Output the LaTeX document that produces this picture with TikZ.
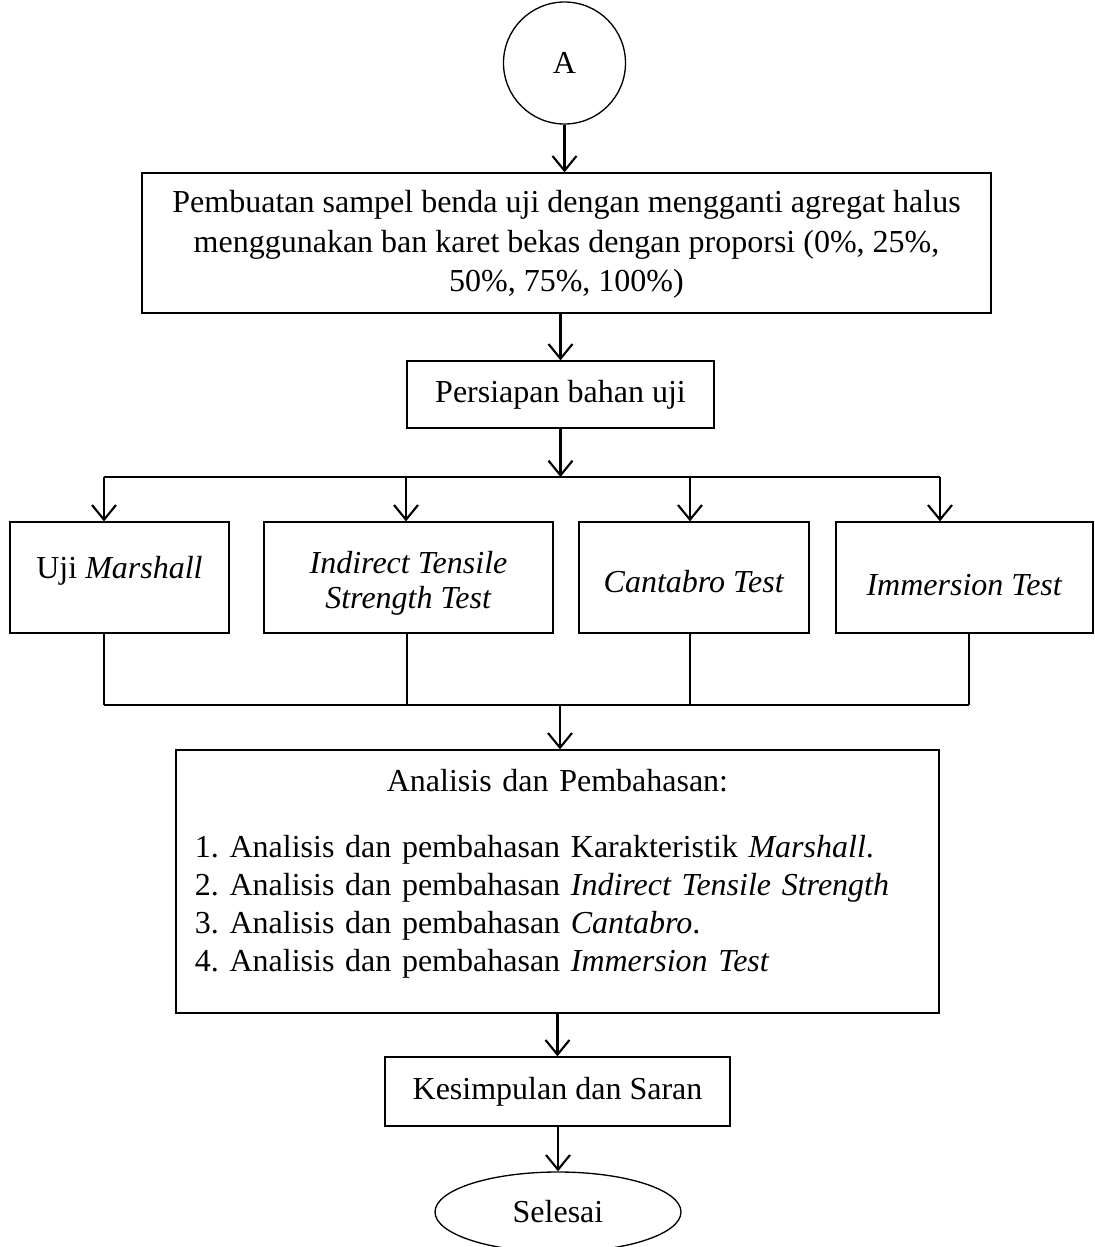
\documentclass[tikz,border=0pt,12pt]{standalone}
\usepackage{fontspec}
\setmainfont{Liberation Serif}
\usetikzlibrary{arrows.meta,shapes.geometric}
\frenchspacing

\begin{document}
\begin{tikzpicture}[x=0.375pt,y=-0.375pt,
    box/.style={draw, line width=0.5pt, inner sep=2pt, align=center, font=\fontsize{12}{14}\selectfont},
    arr/.style={-{Straight Barb[length=5.5pt,width=9pt]}, line width=0.8pt},
    conn/.style={line width=0.7pt}]
    \useasboundingbox (0,0) rectangle (1095,1247);
    \clip (0,0) rectangle (1095,1247);

    % start
    \node[draw, circle, minimum size=45.75pt, inner sep=0pt, line width=0.5pt, font=\fontsize{12}{14}\selectfont] (a) at (564.5,63) {A};

    \node[box, minimum width=318.4pt, minimum height=52.5pt, font=\fontsize{12}{14.8}\selectfont] (buat) at (566.5,243)
        {\rule{0pt}{9.3pt}Pembuatan sampel benda uji dengan mengganti agregat halus\\
         menggunakan ban karet bekas dengan proporsi (0\%, 25\%,\\
         50\%, 75\%, 100\%)};
    \node[box, minimum width=115.1pt, minimum height=25.1pt] (siap) at (560.5,394.5) {Persiapan bahan uji};

    % pengujian
    \node[box, minimum width=82.1pt, minimum height=41.6pt, text depth=7.5pt] (marshall) at (119.5,577.5) {Uji \textit{Marshall}};
    \node[box, minimum width=108.4pt, minimum height=41.6pt, font=\fontsize{12}{13.1}\selectfont] (itst) at (408.5,577.5)
        {\rule{0pt}{12.7pt}\textit{Indirect Tensile}\\ \textit{Strength Test}};
    \node[box, minimum width=86.25pt, minimum height=41.6pt, text height=11.2pt, text depth=0pt] (cantabro) at (694,577.5) {\textit{Cantabro Test}};
    \node[box, minimum width=96.4pt, minimum height=41.6pt, text height=13.2pt, text depth=0pt] (immersion) at (964.5,577.5) {\textit{Immersion Test}};

    \node[box, minimum width=286.1pt, minimum height=98.6pt, text width=271.9pt, align=left, inner xsep=0pt,
          font=\fontsize{12}{14.25}\selectfont] (analisis) at (557.5,881.5)
        {\makebox[\linewidth]{Analisis dan Pembahasan:}\\[10.8pt]
         1. Analisis dan pembahasan Karakteristik \textit{Marshall}.\\
         2. Analisis dan pembahasan \textit{Indirect Tensile Strength}\\
         3. Analisis dan pembahasan \textit{Cantabro}.\\
         4. Analisis dan pembahasan \textit{Immersion Test}\rule[-8.4pt]{0pt}{0pt}};

    \node[box, minimum width=129.4pt, minimum height=25.9pt] (simpul) at (557.5,1091.5) {Kesimpulan dan Saran};
    \node[draw, ellipse, minimum width=92.25pt, minimum height=30pt, inner sep=0pt, line width=0.5pt, font=\fontsize{12}{14}\selectfont] (selesai) at (558,1212) {Selesai};

    % connectors
    \draw[arr] (a.south) -- (a.south |- buat.north);
    \draw[arr] (buat.south -| siap) -- (siap.north);

    \coordinate (bus) at (561,477);
    \coordinate (c1) at (104,477);
    \coordinate (c2) at (406,477);
    \coordinate (c3) at (690,477);
    \coordinate (c4) at (940,477);
    \draw[arr] (siap.south) -- (siap.south |- bus);
    \draw[conn] (c1) -- (c4);
    \foreach \c/\b in {c1/marshall, c2/itst, c3/cantabro, c4/immersion}
        \draw[arr] (\c) -- (\c |- \b.north);

    \coordinate (d1) at (104,705);
    \coordinate (d2) at (407,705);
    \coordinate (d3) at (690,705);
    \coordinate (d4) at (969,705);
    \coordinate (gab) at (560,705);
    \foreach \d/\b in {d1/marshall, d2/itst, d3/cantabro, d4/immersion}
        \draw[conn] (\d |- \b.south) -- (\d);
    \draw[conn] (d1) -- (d4);
    \draw[arr] (gab) -- (gab |- analisis.north);

    \draw[arr] (analisis.south -| simpul) -- (simpul.north);
    \draw[arr] (simpul.south -| selesai) -- (selesai.north);
\end{tikzpicture}
\end{document}
